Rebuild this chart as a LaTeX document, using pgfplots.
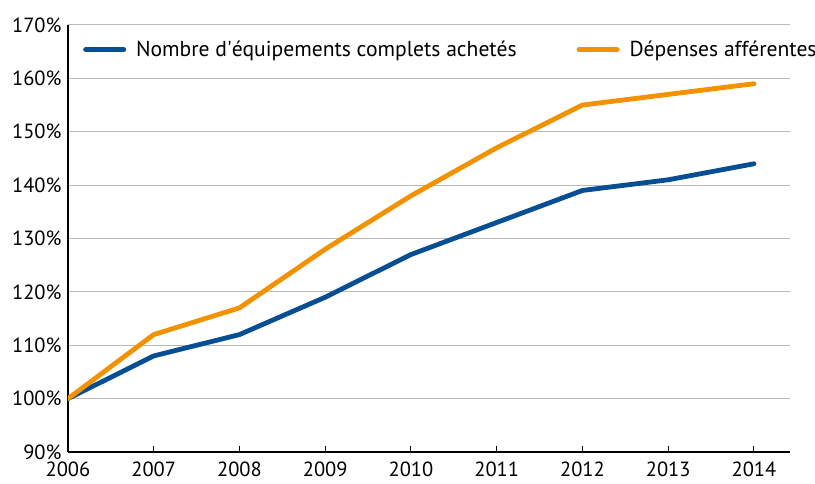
\documentclass[border=0pt]{standalone}
\usepackage{pgfplots}
\pgfplotsset{compat=1.18}
\usepackage{fontspec}
\setmainfont{PT Sans}
\newfontfamily\plainfont{PT Sans}
\definecolor{cblue}{RGB}{8,78,146}
\definecolor{corange}{RGB}{243,146,0}
\definecolor{cgrid}{RGB}{185,185,185}
\newcommand{\fs}{\fontsize{20.5bp}{24bp}\selectfont}
\newcommand{\lfs}{\fontsize{21.6bp}{24bp}\selectfont}
\begin{document}
\begin{tikzpicture}
\begin{axis}[
  name=ax,
  scale only axis,
  width=722bp, height=427bp,
  xmin=2006, xmax=2014.42,
  ymin=90, ymax=170,
  axis x line*=bottom, axis y line*=left,
  axis line style={black, line width=1.2bp, -},
  xtick={2006,...,2014},
  ytick={90,100,...,170},
  xticklabel style={/pgf/number format/1000 sep={}},
  yticklabel={\pgfmathprintnumber{\tick}\%},
  /pgf/number format/assume math mode=true,
  x tick label style={yshift=-6bp},
  y tick label style={xshift=-3bp},
  tick style={black, line width=1bp},
  xtick align=inside,
  major tick length=6bp,
  ytick style={draw=none},
  ymajorgrids,
  grid style={cgrid, line width=1bp},
  tick label style={font=\fs},
  legend style={draw=none, fill=none, anchor=north west,
     font=\lfs, at={(axis description cs:0,1)}, xshift=12bp, yshift=-12bp},
  legend columns=2,
  legend cell align=left,
  /tikz/every even column/.append style={column sep=58bp},
  legend image code/.code={\draw[#1, line width=5bp, line cap=round] (0bp,0bp) -- (38bp,0bp); \path (46bp,0bp);},
]
\addplot[cblue, line width=4.8bp, line cap=round, line join=round] coordinates {
(2006,100) (2007,108) (2008,112) (2009,119) (2010,127) (2011,133) (2012,139) (2013,141) (2014,144)};
\addlegendentry{Nombre d{\plainfont'}équipements complets achetés}
\addplot[corange, line width=4.8bp, line cap=round, line join=round] coordinates {
(2006,100) (2007,112) (2008,117) (2009,128) (2010,138) (2011,147) (2012,155) (2013,157) (2014,159)};
\addlegendentry{Dépenses afférentes}
\end{axis}
\pgfresetboundingbox
\path (ax.south west) ++(-68bp,-32bp) rectangle ++(815bp,484bp);
\end{tikzpicture}
\end{document}
